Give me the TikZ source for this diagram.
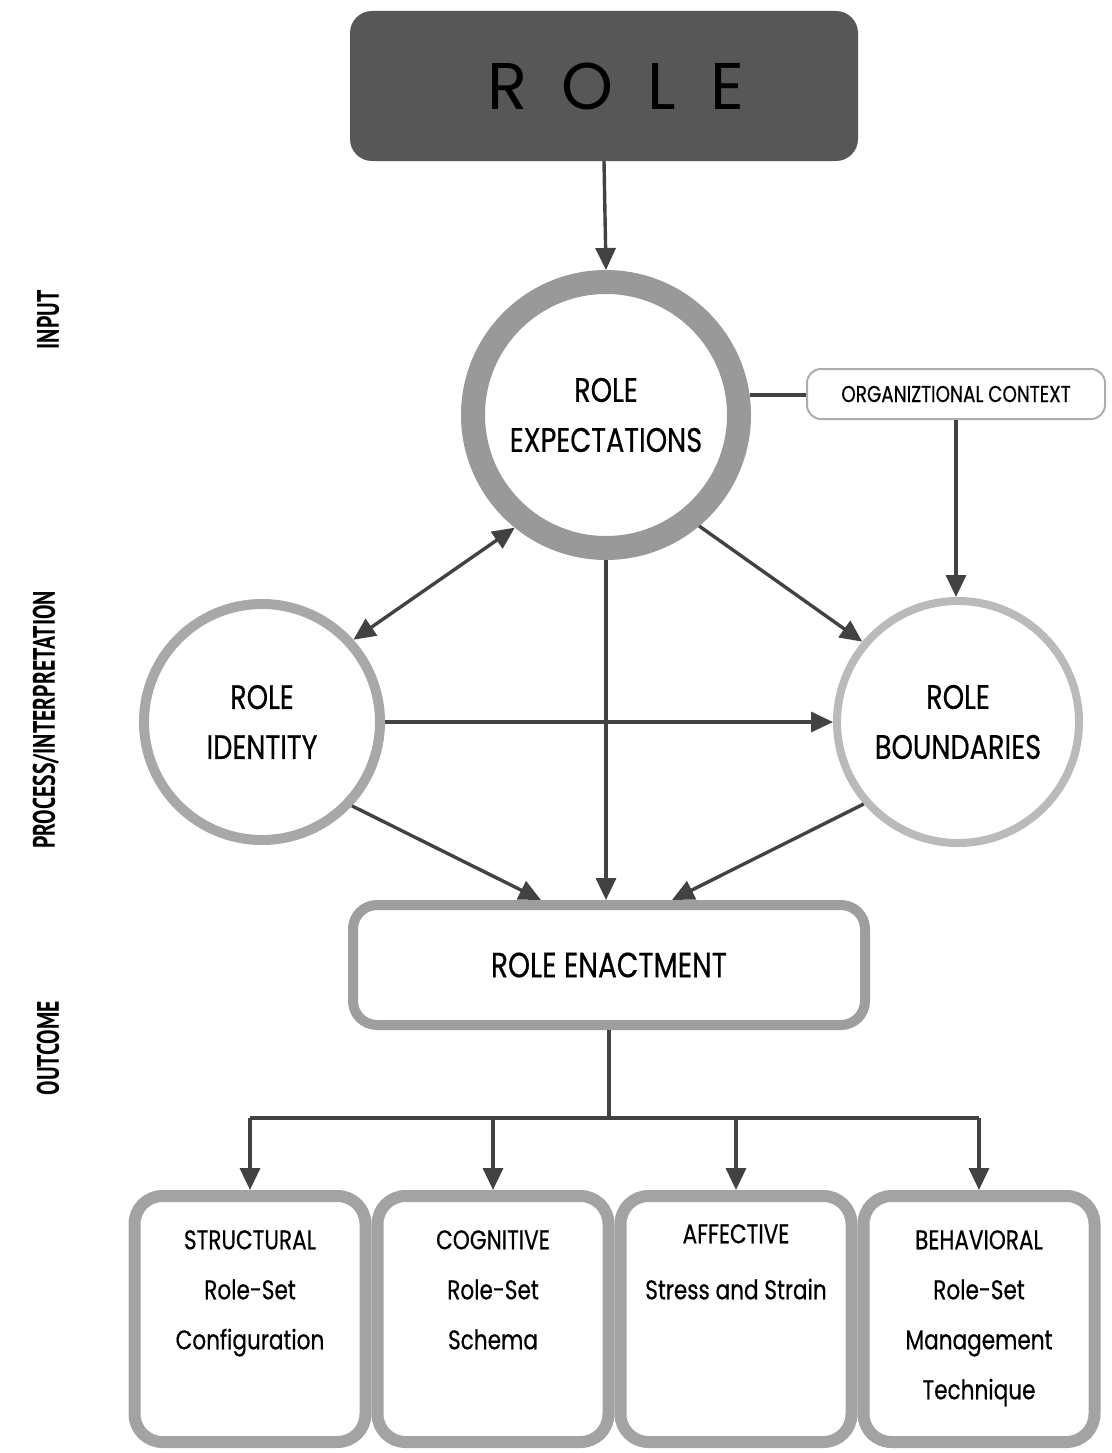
\documentclass[tikz,border=0pt]{standalone}
\usepackage{fontspec}
\setmainfont{Poppins}[FakeStretch=0.8, FakeBold=0.5]
\newfontfamily\rolefont{Poppins}
\newfontfamily\sidefont{PT Sans}[FakeStretch=0.7]
\usetikzlibrary{arrows.meta, positioning}

\begin{document}
\begin{tikzpicture}[x=1pt, y=-1pt,
  >={Triangle[length=22pt,width=20pt]},
  link/.style={draw=black!74, line width=3.4pt},
  ring/.style={circle, draw=black!40, fill=white, align=center, inner sep=0pt,
    font=\fontsize{34}{50}\selectfont},
  rolebox/.style={rectangle, rounded corners=22pt, fill=black!66, text=black,
    minimum width=508pt, minimum height=150pt, font=\rolefont\fontsize{66}{70}\selectfont},
  ctxbox/.style={rectangle, rounded corners=14pt, draw=black!32, line width=2pt,
    minimum width=298pt, minimum height=50pt, font=\fontsize{23}{26}\selectfont},
  enactbox/.style={rectangle, rounded corners=24pt, draw=black!38, line width=10pt,
    fill=white, minimum width=512pt, minimum height=120pt, font=\fontsize{35}{40}\selectfont},
  outbox/.style={rectangle, rounded corners=28pt, draw=black!36, line width=12pt,
    minimum width=231pt, minimum height=246pt},
  outtext/.style={align=center, inner sep=0pt, font=\fontsize{27}{50}\selectfont},
  side/.style={rotate=90, font=\sidefont\bfseries\fontsize{31}{34}\selectfont}]
  \useasboundingbox (0,0) rectangle (1111,1453);
  % stage labels
  \node[side] (input) at (48,320) {INPUT};
  \node[side] (process) at (46,720) {PROCESS/INTERPRETATION};
  \node[side] (outcome) at (48,1048) {OUTCOME};
  % role
  \node[rolebox] (role) at (604,86) {\hspace{24pt}R\hspace{34pt}O\hspace{34pt}L\hspace{34pt}E};
  % circles
  \node[ring, minimum size=266pt, line width=24pt] (re) at (606,415) {ROLE\\EXPECTATIONS};
  \node[ring, minimum size=236pt, line width=10pt, draw=black!34] (ri) at (262,722) {ROLE\\IDENTITY};
  \node[ring, minimum size=242pt, line width=8pt, draw=black!27] (rb) at (958,722) {ROLE\\BOUNDARIES};
  \node[ctxbox] (org) at (956,394) {ORGANIZTIONAL CONTEXT};
  % enactment
  \node[enactbox] (enact) at (609,965) {ROLE ENACTMENT};
  % outcome boxes
  \node[outbox] (struct) at (250,1319) {};
  \node[outbox] (cogn) at (493,1319) {};
  \node[outbox] (affect) at (736,1319) {};
  \node[outbox] (behav) at (979,1319) {};
  \node[outtext, below=40pt of struct.north] (structtxt) {STRUCTURAL\\Role-Set\\Configuration};
  \node[outtext, below=40pt of cogn.north] (cogntxt) {COGNITIVE\\Role-Set\\Schema};
  \node[outtext, below=34pt of affect.north, font=\fontsize{27}{56}\selectfont] (affecttxt) {AFFECTIVE\\Stress and Strain};
  \node[outtext, below=40pt of behav.north] (behavtxt) {BEHAVIORAL\\Role-Set\\Management\\Technique};
  % arrows between the parts
  \draw[link,->] (role.south) -- (re.north);
  \draw[link] (re.8) -- (re.8 -| org.west);
  \draw[link,->] (org.south) -- (org.south |- rb.north);
  \draw[link,<->] (re.231) -- (ri.42);
  \draw[link,->] (re.310) -- (rb.140);
  \draw[link,->] (ri.east) -- (rb.west);
  \draw[link,->] (re.south) -- (re.south |- enact.north);
  \draw[link,->] (ri.317) -- ([xshift=-68pt]enact.north);
  \draw[link,->] (rb.221) -- ([xshift=63pt]enact.north);
  % split to the outcomes
  \coordinate (split) at (609,1118);
  \draw[link] (enact.south) -- (enact.south |- split);
  \draw[link] (struct.north |- split) -- (behav.north |- split);
  \foreach \b in {struct, cogn, affect, behav}
    \draw[link,->] (\b.north |- split) -- (\b.north);
\end{tikzpicture}
\end{document}
